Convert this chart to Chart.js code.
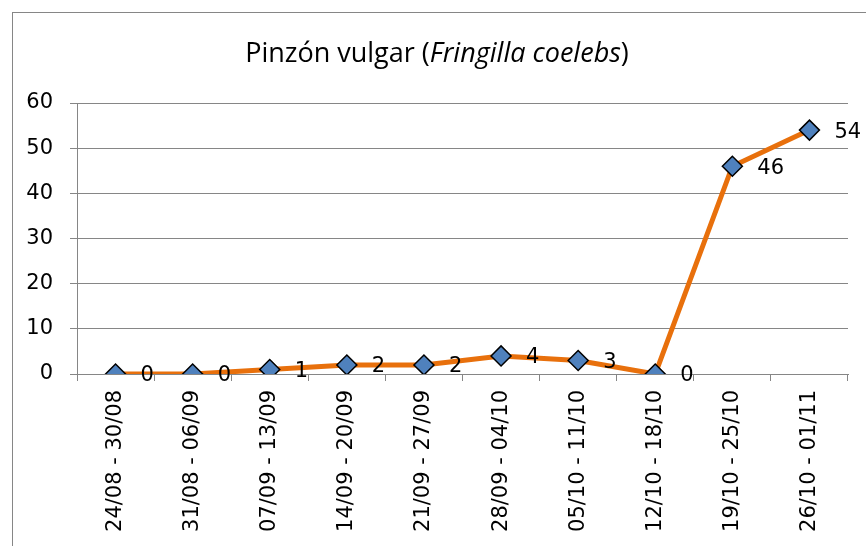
<!DOCTYPE html>
<html>
<head>
<meta charset="utf-8">
<script src="https://cdn.jsdelivr.net/npm/chart.js@4.4.1/dist/chart.umd.min.js"></script>
<style>
  html, body { margin: 0; padding: 0; background: #fff; }
  #wrap { position: relative; width: 866px; height: 546px; }
</style>
</head>
<body>
<div id="wrap"><canvas id="grafico" width="866" height="546"></canvas></div>
<script>
// datos
const semanas = ['24/08 - 30/08', '31/08 - 06/09', '07/09 - 13/09', '14/09 - 20/09', '21/09 - 27/09',
                 '28/09 - 04/10', '05/10 - 11/10', '12/10 - 18/10', '19/10 - 25/10', '26/10 - 01/11'];
const pinzones = [0, 0, 1, 2, 2, 4, 3, 0, 46, 54];
const ticksY = [0, 10, 20, 30, 40, 50, 60];

const fuenteEje = 'DejaVu Sans, sans-serif';
const gris = '#868686';

// marco exterior (cortado a la derecha y abajo)
const marco = {
    id: 'marco',
    beforeDraw(chart) {
        const ctx = chart.ctx;
        ctx.save();
        ctx.strokeStyle = gris;
        ctx.lineWidth = 1;
        ctx.strokeRect(12.5, 12.5, 1000, 1000);
        ctx.restore();
    }
};

// título con parte en cursiva
const titulo = {
    id: 'tituloMixto',
    afterDraw(chart) {
        const ctx = chart.ctx;
        const base = '27px "Open Sans", sans-serif';
        const partes = [
            { t: 'Pinzón vulgar (', f: base },
            { t: 'Fringilla coelebs', f: 'italic ' + base },
            { t: ')', f: base }
        ];
        ctx.save();
        let ancho = 0;
        partes.forEach(p => { ctx.font = p.f; p.w = ctx.measureText(p.t).width; ancho += p.w; });
        let x = 437 - ancho / 2;
        ctx.fillStyle = '#000';
        ctx.textBaseline = 'alphabetic';
        ctx.textAlign = 'left';
        partes.forEach(p => { ctx.font = p.f; ctx.fillText(p.t, x, 62); x += p.w; });
        ctx.restore();
    }
};

// etiquetas de valor a la derecha de cada punto
const etiquetas = {
    id: 'etiquetas',
    afterDatasetsDraw(chart) {
        const ctx = chart.ctx;
        const meta = chart.getDatasetMeta(0);
        ctx.save();
        ctx.font = '21px ' + fuenteEje;
        ctx.fillStyle = '#000';
        ctx.textAlign = 'left';
        ctx.textBaseline = 'middle';
        meta.data.forEach((pt, i) => {
            ctx.fillText(String(pinzones[i]), pt.x + 25, pt.y + 2);
        });
        ctx.restore();
    }
};

new Chart(document.getElementById('grafico'), {
    type: 'line',
    data: {
        labels: semanas,
        datasets: [{
            label: 'Pinzón vulgar',
            data: pinzones,
            borderColor: '#E8700C',
            borderWidth: 5,
            tension: 0,
            pointStyle: 'rectRot',
            pointRadius: 10,
            pointBackgroundColor: '#4F81BD',
            pointBorderColor: '#000',
            pointBorderWidth: 1.5
        }]
    },
    options: {
        responsive: false,
        animation: false,
        layout: { padding: { left: 12, right: 18, top: 103, bottom: 0 } },
        plugins: { legend: { display: false }, title: { display: false }, tooltip: { enabled: false } },
        scales: {
            x: {
                offset: true,
                grid: { offset: true, drawOnChartArea: false, drawTicks: true, tickLength: 7, color: gris },
                border: { color: gris, width: 1 },
                ticks: { color: '#000', font: { family: fuenteEje, size: 21 }, minRotation: 90, maxRotation: 90, autoSkip: false, padding: 9 },
                afterFit(scale) { scale.height = 172; }
            },
            y: {
                min: 0, max: 60,
                afterBuildTicks(scale) { scale.ticks = ticksY.map(v => ({ value: v })); },
                grid: { color: gris, drawTicks: true, tickLength: 7 },
                border: { color: gris, width: 1 },
                ticks: { color: '#000', font: { family: fuenteEje, size: 21 }, padding: 17 },
                afterFit(scale) { scale.width = 65; }
            }
        }
    },
    plugins: [marco, titulo, etiquetas]
});
</script>
</body>
</html>
